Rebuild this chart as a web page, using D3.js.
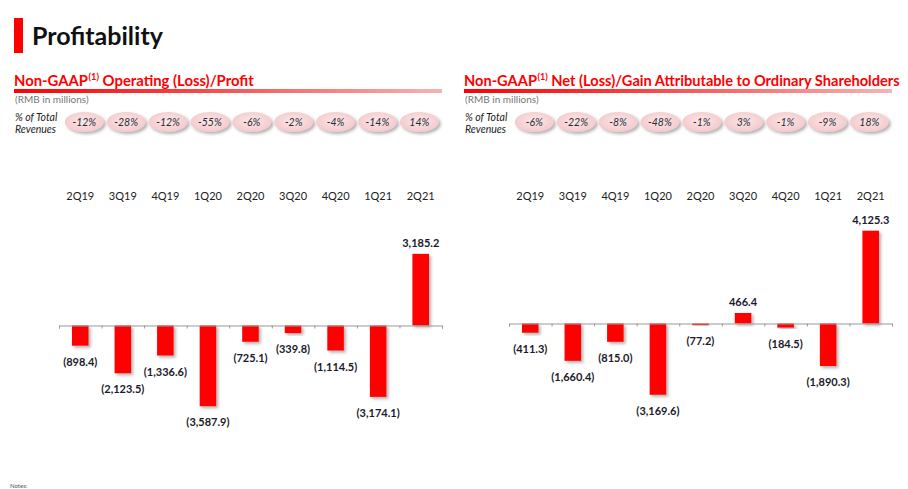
<!DOCTYPE html>
<html><head><meta charset="utf-8">
<script src="https://cdn.jsdelivr.net/npm/d3@7"></script>
<style>html,body{margin:0;padding:0;background:#fff;overflow:hidden}svg{display:block}</style>
</head><body>
<svg id="chart" width="908" height="489"></svg>
<script>
const categories = ['2Q19','3Q19','4Q19','1Q20','2Q20','3Q20','4Q20','1Q21','2Q21'];
const opValues = [-898.4, -2123.5, -1336.6, -3587.9, -725.1, -339.8, -1114.5, -3174.1, 3185.2];
const opPct = ['-12%','-28%','-12%','-55%','-6%','-2%','-4%','-14%','14%'];
const netValues = [-411.3, -1660.4, -815.0, -3169.6, -77.2, 466.4, -184.5, -1890.3, 4125.3];
const netPct = ['-6%','-22%','-8%','-48%','-1%','3%','-1%','-9%','18%'];

const FONT = "Lato, 'Open Sans', sans-serif";
const svg = d3.select('#chart');
const defs = svg.append('defs');

const grad = defs.append('linearGradient').attr('id','ul').attr('x1','0').attr('x2','1').attr('y1','0').attr('y2','0');
grad.append('stop').attr('offset','0%').attr('stop-color','#ff0000');
grad.append('stop').attr('offset','35%').attr('stop-color','#f53a3a');
grad.append('stop').attr('offset','100%').attr('stop-color','#f7b3b5');

const pg = defs.append('radialGradient').attr('id','pill').attr('cx','50%').attr('cy','45%').attr('r','60%');
pg.append('stop').attr('offset','0%').attr('stop-color','#fbe8e9');
pg.append('stop').attr('offset','100%').attr('stop-color','#f3c6c9');

const sh = defs.append('filter').attr('id','shadow').attr('x','-30%').attr('y','-30%').attr('width','160%').attr('height','160%');
sh.append('feDropShadow').attr('dx',2).attr('dy',2).attr('stdDeviation',1.4).attr('flood-color','#555').attr('flood-opacity',0.45);

// Title
svg.append('rect').attr('x',14).attr('y',18).attr('width',9).attr('height',35).attr('fill','#ff0000');
svg.append('text').attr('x',32).attr('y',45).attr('font-family',FONT).attr('font-weight','bold')
  .attr('font-size',25).attr('fill','#111').text('Profitability');

// Notes (at page bottom)
svg.append('text').attr('x',10).attr('y',488).attr('font-family',FONT).attr('font-size',6).attr('fill','#555').text('Notes:');

function subtitle(g, x0, title, maxW) {
  let fs = 15;
  const parts = [];
  function layout() {
    parts.forEach(p => p.remove());
    parts.length = 0;
    let x = x0;
    const a = g.append('text').attr('x',x).attr('y',86).attr('font-family',FONT).attr('font-weight','bold')
      .attr('font-size',fs).attr('fill','#ff0000').text('Non-GAAP');
    x += a.node().getComputedTextLength() + 0.5;
    const b = g.append('text').attr('x',x).attr('y',80).attr('font-family',FONT).attr('font-weight','bold')
      .attr('font-size',fs*0.62).attr('fill','#ff0000').text('(1)');
    x += b.node().getComputedTextLength() + fs*0.25;
    const c = g.append('text').attr('x',x).attr('y',86).attr('font-family',FONT).attr('font-weight','bold')
      .attr('font-size',fs).attr('fill','#ff0000').text(title);
    x += c.node().getComputedTextLength();
    parts.push(a.node(), b.node(), c.node());
    return x - x0;
  }
  let w = layout();
  if (w > maxW) { fs = fs * maxW / w; layout(); }
}

function panel(ox, zeroY, title, titleW, values, pcts) {
  const g = svg.append('g');
  subtitle(g, ox+14, title, titleW);
  g.append('rect').attr('x',ox+14).attr('y',89).attr('width',428).attr('height',4).attr('fill','url(#ul)');
  g.append('text').attr('x',ox+15).attr('y',103).attr('font-family',FONT).attr('font-size',10).attr('fill','#777').text('(RMB in millions)');
  g.append('text').attr('x',ox+15).attr('y',121).attr('font-family',FONT).attr('font-style','italic').attr('font-size',10.5).attr('fill','#222').text('% of Total');
  g.append('text').attr('x',ox+15).attr('y',133).attr('font-family',FONT).attr('font-style','italic').attr('font-size',10.5).attr('fill','#222').text('Revenues');

  // pills
  const px = d3.scalePoint().domain(categories).range([ox+84.3, ox+419.3]);
  const pill = g.selectAll('g.pill').data(categories).join('g').attr('class','pill')
    .attr('transform', d => `translate(${px(d)},122)`);
  pill.append('ellipse').attr('rx',19.5).attr('ry',10).attr('fill','url(#pill)').attr('filter','url(#shadow)');
  pill.append('text').attr('text-anchor','middle').attr('dy','0.35em').attr('font-family',FONT)
    .attr('font-style','italic').attr('font-size',10.5).attr('fill','#2a2a33').text((d,i)=>pcts[i]);

  // scales
  const x = d3.scaleBand().domain(categories).range([ox+59, ox+442]).paddingInner(0.61).paddingOuter(0.305);
  const k = 0.0225;
  const y = d3.scaleLinear().domain([-5000, 5000]).range([zeroY + 5000*k, zeroY - 5000*k]);

  // category labels
  g.selectAll('text.cat').data(categories).join('text').attr('class','cat')
    .attr('x', d => x(d) + x.bandwidth()/2).attr('y',200).attr('text-anchor','middle')
    .attr('font-family',FONT).attr('font-size',11).attr('fill','#222').text(d=>d);

  // bars
  g.selectAll('rect.bar').data(values).join('rect').attr('class','bar')
    .attr('x',(d,i)=>x(categories[i])).attr('width',x.bandwidth())
    .attr('y',d=>y(Math.max(0,d))).attr('height',d=>Math.abs(y(d)-y(0)))
    .attr('fill','#ff0000').attr('filter','url(#shadow)');

  // axis
  const axisX = d3.scaleLinear().domain([0, categories.length]).range([ox+59, ox+442]);
  g.append('g').attr('transform',`translate(0,${y(0)})`)
    .call(d3.axisBottom(axisX).ticks(categories.length).tickSize(3).tickFormat(''))
    .call(a => { a.select('.domain').attr('stroke','#999'); a.selectAll('.tick line').attr('stroke','#999'); });

  // value labels
  const fmt = d3.format(',.1f');
  g.selectAll('text.val').data(values).join('text').attr('class','val')
    .attr('x',(d,i)=>x(categories[i]) + x.bandwidth()/2)
    .attr('y',d => d >= 0 ? y(d) - 7 : y(d) + 20)
    .attr('text-anchor','middle').attr('font-family',FONT).attr('font-weight','bold')
    .attr('font-size',11).attr('fill','#1a1a2a')
    .text(d => d >= 0 ? fmt(d) : '(' + fmt(-d) + ')');
}

panel(0, 325.5, 'Operating (Loss)/Profit', 240, opValues, opPct);
panel(450, 323.5, 'Net (Loss)/Gain Attributable to Ordinary Shareholders', 436, netValues, netPct);
</script>
</body></html>
